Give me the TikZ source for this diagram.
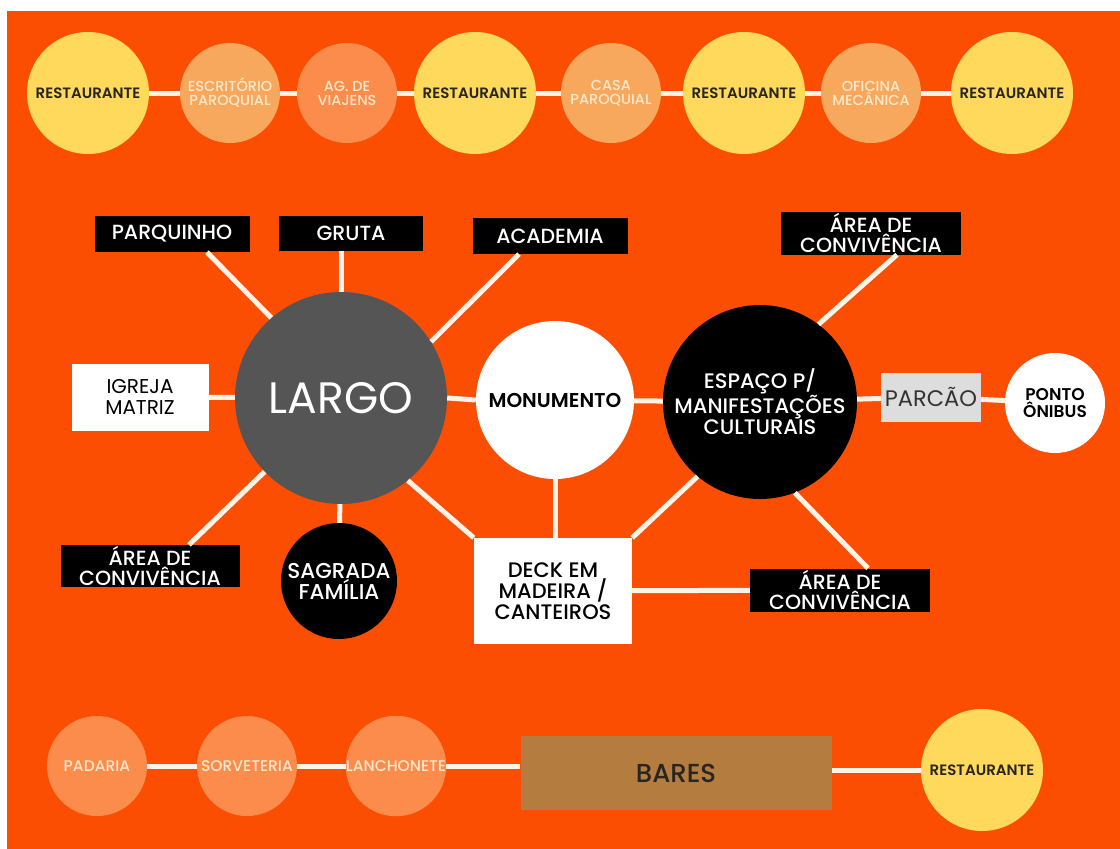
\documentclass[tikz,border=0pt]{standalone}
\usepackage{fontspec}
\setmainfont{Poppins}
\newfontfamily\popmed{Poppins Medium}
\newfontfamily\popsemi{Poppins SemiBold}
\usepackage{tikz}
\usetikzlibrary{positioning, calc}
\definecolor{bgorange}{RGB}{252,78,3}
\definecolor{sunyellow}{RGB}{255,217,92}
\definecolor{peach}{RGB}{248,168,92}
\definecolor{tangerine}{RGB}{251,140,76}
\definecolor{cream}{RGB}{253,232,204}
\definecolor{inkgray}{RGB}{40,36,32}
\definecolor{largogray}{RGB}{85,85,85}
\definecolor{parcaogray}{RGB}{221,221,221}
\definecolor{baresbrown}{RGB}{180,124,62}
\definecolor{linecream}{RGB}{255,242,230}
\newcommand{\setfs}[2]{\fontsize{#1}{#2}\selectfont}

\begin{document}
\begin{tikzpicture}[
    x=1pt, y=-1pt,
    resto/.style={circle, fill=sunyellow, minimum size=122pt, inner sep=0pt, text=inkgray, font=\popsemi\setfs{15}{17}},
    shop/.style={circle, fill=peach, minimum size=100pt, inner sep=0pt, text=cream, align=center, font=\popmed\setfs{14.5}{14}},
    tagbox/.style={rectangle, fill=black, inner sep=0pt, text=white, align=center, font=\popmed\setfs{20.5}{20}},
    whitebox/.style={rectangle, fill=white, inner sep=0pt, text=black, align=center, font=\setfs{20}{21}},
    hub/.style={circle, inner sep=0pt, align=center, font=\popmed\setfs{21}{20}},
    link/.style={draw=linecream, line width=5pt}
]

% Background
\fill[white] (0,0) rectangle (1120,849);
\fill[bgorange] (7,11) rectangle (1120,849);
\useasboundingbox (0,0) rectangle (1120,849);

% Top row of shops
\node[resto] (resto1) at (88,93) {RESTAURANTE};
\node[shop] (escritorio) at (230,93) {ESCRITÓRIO\\PAROQUIAL};
\node[shop, fill=tangerine] (agencia) at (347,93) {AG. DE\\VIAJENS};
\node[resto] (resto2) at (475,93) {RESTAURANTE};
\node[shop] (casa) at (611,93) {CASA\\PAROQUIAL};
\node[resto] (resto3) at (744,93) {RESTAURANTE};
\node[shop] (oficina) at (871,93) {OFICINA\\MECÂNICA};
\node[resto] (resto4) at (1012,93) {RESTAURANTE};

\draw[link] (resto1) -- (escritorio);
\draw[link] (escritorio) -- (agencia);
\draw[link] (agencia) -- (resto2);
\draw[link] (resto2) -- (casa);
\draw[link] (casa) -- (resto3);
\draw[link] (resto3) -- (oficina);
\draw[link] (oficina) -- (resto4);

% Largo and its surroundings
\node[hub, fill=largogray, minimum size=212pt, text=white, font=\setfs{44}{48}] (largo) at (341,398) {LARGO};
\node[whitebox, minimum width=137pt, minimum height=67pt] (igreja) at (140,397) {IGREJA\\MATRIZ};
\node[tagbox, minimum width=155pt, minimum height=36pt] (parquinho) at (172,234) {PARQUINHO};
\node[tagbox, minimum width=144pt, minimum height=35pt] (gruta) at (351,233) {GRUTA};
\node[tagbox, minimum width=155pt, minimum height=36pt] (academia) at (550,236) {ACADEMIA};
\node[tagbox, minimum width=179pt, minimum height=42pt] (convleft) at (150,566) {ÁREA DE\\CONVIVÊNCIA};
\node[hub, fill=black, minimum size=116pt, text=white, font=\popmed\setfs{21.5}{21}] (sagrada) at (339,581) {SAGRADA\\FAMÍLIA};

\draw[link] (igreja) -- (largo);
\draw[link] ($(parquinho.south)+(35,0)$) -- (largo.131);
\draw[link] (gruta.south -| largo) -- (largo);
\draw[link] ($(academia.south)+(-31,0)$) -- (largo.32);
\draw[link] ($(convleft.north)+(39,0)$) -- (largo.224);
\draw[link] (sagrada) -- (largo);

% Monumento and deck
\node[hub, fill=white, minimum size=158pt, text=black, font=\popsemi\setfs{20}{22}] (monumento) at (555,400) {MONUMENTO};
\node[whitebox, minimum width=158pt, minimum height=106pt, font=\popmed\setfs{21}{21}] (deck) at (553,591) {DECK EM\\MADEIRA /\\CANTEIROS};

\draw[link] (largo.east) -- (monumento.west);
\draw[link] (largo.-51) -- (deck.north west);
\draw[link] (monumento.south) -- (monumento.south |- deck.north);

% Espaco cultural
\node[hub, fill=black, minimum size=194pt, text=white] (espaco) at (760,402) {ESPAÇO P/\\MANIFESTAÇÕES\\CULTURAIS};
\node[tagbox, minimum width=180pt, minimum height=43pt] (convtop) at (871,233) {ÁREA DE\\CONVIVÊNCIA};
\node[tagbox, minimum width=180pt, minimum height=43pt] (convright) at (840,590) {ÁREA DE\\CONVIVÊNCIA};
\node[rectangle, fill=parcaogray, minimum width=100pt, minimum height=49pt, inner sep=0pt, text=black!80, font=\setfs{22.5}{24}] (parcao) at (931,397) {PARCÃO};
\node[hub, fill=white, minimum size=100pt, text=black, font=\popsemi\setfs{17}{17}] (ponto) at (1055,403) {PONTO\\ÔNIBUS};

\draw[link] (monumento) -- (espaco);
\draw[link] (deck.north east) -- (espaco.230);
\draw[link] (deck) -- (convright);
\draw[link] (espaco.291) -- ($(convright.north)+(28,0)$);
\draw[link] (espaco.53) -- ($(convtop.south)+(26,0)$);
\draw[link] (espaco) -- (parcao);
\draw[link] (parcao) -- (ponto);

% Bottom row of shops
\node[shop, fill=tangerine, font=\popmed\setfs{15.5}{16}] (padaria) at (97,766) {PADARIA};
\node[shop, fill=tangerine, font=\popmed\setfs{15.5}{16}] (sorveteria) at (247,766) {SORVETERIA};
\node[shop, fill=tangerine, font=\popmed\setfs{15.5}{16}] (lanchonete) at (396,766) {LANCHONETE};
\node[rectangle, fill=baresbrown, minimum width=311pt, minimum height=74pt, inner sep=0pt, text=inkgray, font=\popmed\setfs{26}{28}] (bares) at (676,773) {BARES};
\node[resto] (resto5) at (982,770) {RESTAURANTE};

\draw[link] (padaria) -- (sorveteria);
\draw[link] (sorveteria) -- (lanchonete);
\draw[link] (lanchonete) -- (lanchonete -| bares.west);
\draw[link] (bares.east |- resto5) -- (resto5);

\end{tikzpicture}
\end{document}
